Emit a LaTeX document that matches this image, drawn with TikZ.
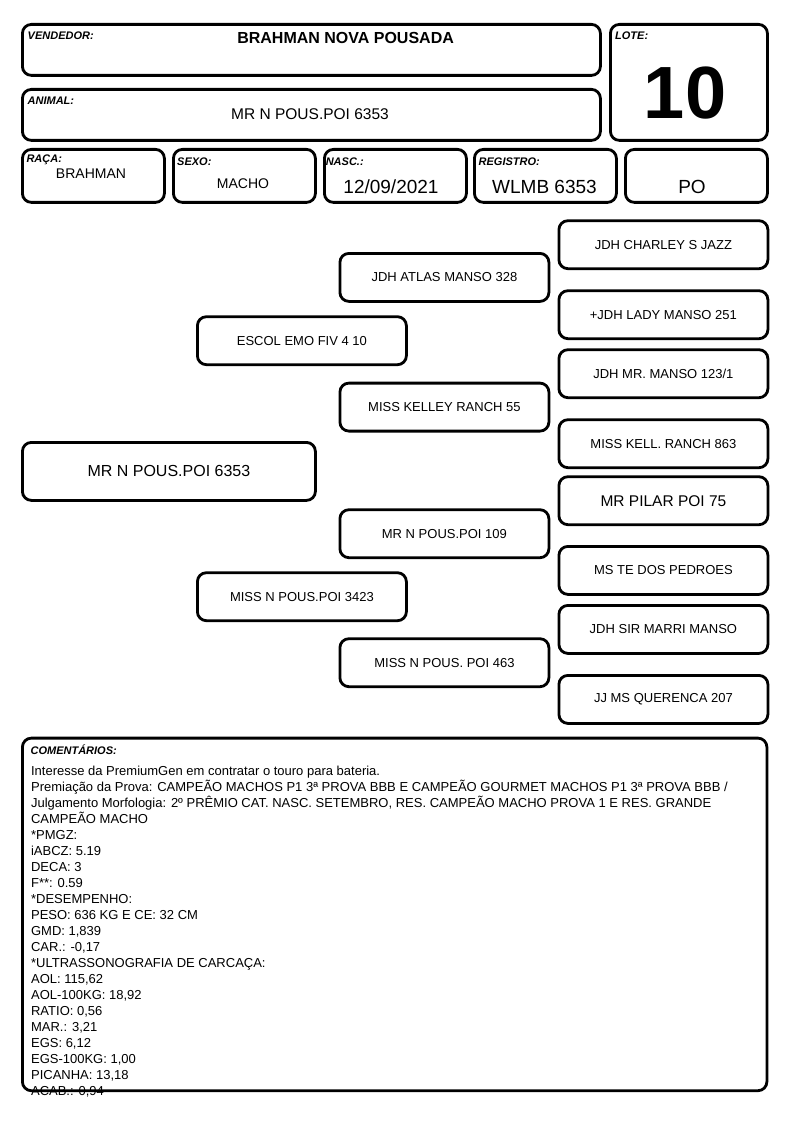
\documentclass[tikz,border=0pt]{standalone}
\usepackage{fontspec}
\setmainfont{Liberation Sans}
\usetikzlibrary{positioning}

\newcommand{\fs}[1]{\fontsize{#1}{#1}\selectfont}
\tikzset{
  cell/.style={draw, line width=2.8pt, rounded corners=9pt, anchor=north west, inner sep=0pt},
  tag/.style={anchor=north west, inner sep=0pt, font=\fs{11}\bfseries\itshape},
  entry/.style={anchor=base, inner sep=0pt},
  ped/.style={cell, minimum width=209pt, minimum height=48pt, font=\fs{13}},
}

\begin{document}
\begin{tikzpicture}[x=1pt, y=-1pt]
  \useasboundingbox (0,0) rectangle (794,1123);

  % header boxes
  \node [cell, minimum width=578pt, minimum height=51pt] (vend) at (21,23) {};
  \node [cell, minimum width=157pt, minimum height=116pt] (lote) at (609,23) {};
  \node [cell, minimum width=578pt, minimum height=51pt] (anim) at (21,88) {};
  \node [cell, minimum width=142pt, minimum height=53pt] (raca) at (21,148) {};
  \node [cell, minimum width=142pt, minimum height=53pt] (sexo) at (172,148) {};
  \node [cell, minimum width=142pt, minimum height=53pt] (nasc) at (323,148) {};
  \node [cell, minimum width=142pt, minimum height=53pt] (regi) at (473,148) {};
  \node [cell, minimum width=142pt, minimum height=53pt] (cat) at (624,148) {};

  \node [tag] (vendtag) at ([shift={(6.5,9)}]vend.north west) {VENDEDOR:};
  \node [tag] (lotetag) at ([shift={(6,9)}]lote.north west) {LOTE:};
  \node [tag] (animtag) at ([shift={(6.5,8.5)}]anim.north west) {ANIMAL:};
  \node [tag] (racatag) at ([shift={(5.3,6.7)}]raca.north west) {RAÇA:};
  \node [tag] (sexotag) at ([shift={(5,10)}]sexo.north west) {SEXO:};
  \node [tag] (nasctag) at ([shift={(2.6,10)}]nasc.north west) {NASC.:};
  \node [tag] (regitag) at ([shift={(5.5,10)}]regi.north west) {REGISTRO:};

  \node [entry, font=\fs{16}\bfseries] (vendtxt) at (345.6,43.3) {BRAHMAN NOVA POUSADA};
  \node [entry, font=\fs{74}\bfseries] (lotetxt) at (685,118.3) {10};
  \node [entry, font=\fs{15.5}] (animtxt) at (310,119.3) {MR N POUS.POI 6353};
  \node [entry, font=\fs{14}] (racatxt) at (91,178.3) {BRAHMAN};
  \node [entry, font=\fs{14}] (sexotxt) at (243,189) {MACHO};
  \node [entry, font=\fs{19}] (nasctxt) at (391,194) {12/09/2021};
  \node [entry, font=\fs{19}] (regitxt) at (544.5,194) {WLMB 6353};
  \node [entry, font=\fs{19}] (cattxt) at (692,193.5) {PO};

  % pedigree
  \node [ped, minimum width=293pt, minimum height=58pt, font=\fs{16}] (self) at (21,441) {MR N POUS.POI 6353};
  \node [ped] (sire) at (196,315.3) {ESCOL EMO FIV 4 10};
  \node [ped] (dam) at (196,571.3) {MISS N POUS.POI 3423};
  \foreach \y/\nm/\txt in {252/ss/JDH ATLAS MANSO 328, 381.7/sd/MISS KELLEY RANCH 55,
      508.3/ds/MR N POUS.POI 109, 637.3/dd/MISS N POUS. POI 463} {
    \node [ped] (\nm) at (338.5,\y) {\txt};
  }
  \foreach \y/\nm/\sz/\txt in {219.3/sss/13/JDH CHARLEY S JAZZ, 289.3/ssd/13/+JDH LADY MANSO 251,
      348.3/sds/13/{JDH MR. MANSO 123/1}, 418.3/sdd/13/MISS KELL. RANCH 863,
      475.3/dss/15.5/MR PILAR POI 75, 545/dsd/13/MS TE DOS PEDROES,
      604/dds/13/JDH SIR MARRI MANSO, 674/ddd/13/JJ MS QUERENCA 207} {
    \node [ped, font=\fs{\sz}] (\nm) at (557.5,\y) {\txt};
  }

  % comments
  \node [anchor=north west, inner sep=0pt, align=left, font=\fontsize{13}{16}\selectfont] (notes) at (30.9,766) {%
    Interesse da PremiumGen em contratar o touro para bateria.\\
    Premiação da Prova: CAMPEÃO MACHOS P1 3ª PROVA BBB E CAMPEÃO GOURMET MACHOS P1 3ª PROVA BBB /\\
    Julgamento Morfologia: 2º PRÊMIO CAT. NASC. SETEMBRO, RES. CAMPEÃO MACHO PROVA 1 E RES. GRANDE\\
    CAMPEÃO MACHO\\
    *PMGZ:\\
    iABCZ: 5.19\\
    DECA: 3\\
    F**: 0.59\\
    *DESEMPENHO:\\
    PESO: 636 KG E CE: 32 CM\\
    GMD: 1,839\\
    CAR.: -0,17\\
    *ULTRASSONOGRAFIA DE CARCAÇA:\\
    AOL: 115,62\\
    AOL-100KG: 18,92\\
    RATIO: 0,56\\
    MAR.: 3,21\\
    EGS: 6,12\\
    EGS-100KG: 1,00\\
    PICANHA: 13,18\\
    ACAB.: 0,94};
  \node [cell, minimum width=744.5pt, minimum height=352.6pt] (comm) at (21,736.7) {};
  \node [tag] (commtag) at ([shift={(9.4,8.3)}]comm.north west) {COMENTÁRIOS:};

\end{tikzpicture}
\end{document}
